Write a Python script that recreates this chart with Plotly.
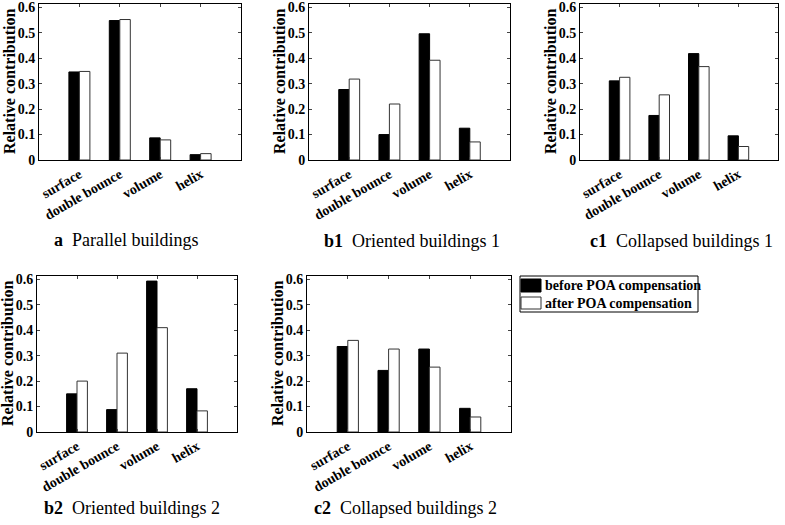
import plotly.graph_objects as go

# Categories and values
categories = ["surface", "double bounce", "volume", "helix"]
cat_pos = [1, 2, 3, 4]

panel_a_before = [0.346, 0.548, 0.087, 0.021]
panel_a_after = [0.348, 0.552, 0.079, 0.025]

panel_b1_before = [0.277, 0.100, 0.496, 0.125]
panel_b1_after = [0.318, 0.220, 0.392, 0.071]

panel_c1_before = [0.311, 0.175, 0.418, 0.095]
panel_c1_after = [0.325, 0.256, 0.367, 0.053]

panel_b2_before = [0.150, 0.088, 0.593, 0.170]
panel_b2_after = [0.200, 0.310, 0.410, 0.083]

panel_c2_before = [0.336, 0.242, 0.326, 0.093]
panel_c2_after = [0.360, 0.326, 0.255, 0.059]

y_ticks = [0, 0.1, 0.2, 0.3, 0.4, 0.5, 0.6]
y_ticktext = ["0", "0.1", "0.2", "0.3", "0.4", "0.5", "0.6"]

series_names = ["before POA compensation", "after POA compensation"]

captions = [("a", "Parallel buildings"), ("b1", "Oriented buildings 1"),
            ("c1", "Collapsed buildings 1"), ("b2", "Oriented buildings 2"),
            ("c2", "Collapsed buildings 2")]

panels = [
    (panel_a_before, panel_a_after),
    (panel_b1_before, panel_b1_after),
    (panel_c1_before, panel_c1_after),
    (panel_b2_before, panel_b2_after),
    (panel_c2_before, panel_c2_after),
]

W, H = 785, 525
# plot boxes in pixels: left, right, top, bottom
boxes = [
    (39, 241, 4, 160),
    (309, 510, 4, 160),
    (580, 778, 4, 160),
    (37, 237, 276, 432),
    (307, 511, 276, 432),
]
caption_pos = [(52, 240), (322, 241), (588, 241), (42, 508), (312, 508)]

FONT = "Liberation Serif"
fill_colors = ["black", "white"]
edge_colors = ["black", "#333"]

fig = go.Figure()
layout = {}
annotations = []
shapes = []
for i, ((before, after), box) in enumerate(zip(panels, boxes)):
    n = "" if i == 0 else str(i + 1)
    xa, ya = "x" + n, "y" + n
    for vals, name, fc, ec in zip((before, after), series_names, fill_colors, edge_colors):
        fig.add_trace(go.Bar(x=cat_pos, y=vals, name=name,
                             marker=dict(color=fc, line=dict(color=ec, width=1)),
                             xaxis=xa, yaxis=ya, showlegend=False))
    l, r, t, b = box
    layout["xaxis" + n] = dict(
        domain=[l / W, r / W], anchor=ya, range=[0, 5], automargin=False,
        tickvals=cat_pos, ticktext=categories, tickangle=-30,
        ticks="inside", ticklen=3, showline=True, linecolor="black", linewidth=1,
        mirror="ticks", showgrid=False, zeroline=False,
        tickfont=dict(family=FONT, size=14, color="black", weight="bold"),
    )
    layout["yaxis" + n] = dict(
        domain=[1 - b / H, 1 - t / H], anchor=xa, range=[0, 0.613], automargin=False,
        tickvals=y_ticks, ticktext=y_ticktext, ticklabeloverflow="allow",
        ticks="inside", ticklen=3, showline=True, linecolor="black", linewidth=1,
        mirror="ticks", showgrid=False, zeroline=False,
        tickfont=dict(family=FONT, size=14, color="black", weight="bold"),
    )
    annotations.append(dict(
        x=(l - 30) / W, y=1 - (t + b) / 2 / H, xref="paper", yref="paper",
        text="<b>Relative contribution</b>", textangle=-90, showarrow=False,
        font=dict(family=FONT, size=16, color="black"),
        xanchor="center", yanchor="middle"))
    cx, cy = caption_pos[i]
    lab, txt = captions[i]
    annotations.append(dict(
        x=cx / W, y=1 - cy / H, xref="paper", yref="paper",
        text="<b>" + lab + "</b>  " + txt, showarrow=False,
        font=dict(family=FONT, size=18, color="black"),
        xanchor="left", yanchor="middle"))

# legend box (drawn like the original MATLAB legend)
lx0, lx1, ly0, ly1 = 520, 698, 276, 312
shapes.append(dict(type="rect", xref="paper", yref="paper",
                   x0=lx0 / W, x1=lx1 / W, y0=1 - ly1 / H, y1=1 - ly0 / H,
                   line=dict(color="black", width=1), fillcolor="white"))
rows = [(279, 292), (297, 309)]
for (r0, r1), name, fc, ec in zip(rows, series_names, fill_colors, edge_colors):
    shapes.append(dict(type="rect", xref="paper", yref="paper",
                       x0=(lx0 + 1) / W, x1=(lx0 + 21) / W, y0=1 - r1 / H, y1=1 - r0 / H,
                       line=dict(color=ec, width=1), fillcolor=fc))
    annotations.append(dict(
        x=(lx0 + 23) / W, y=1 - (r0 + r1) / 2 / H, xref="paper", yref="paper",
        text="<b>" + name + "</b>", showarrow=False,
        font=dict(family=FONT, size=14, color="black"),
        xanchor="left", yanchor="middle"))

fig.update_layout(**layout)
fig.update_layout(
    width=W, height=H,
    margin=dict(l=0, r=0, t=0, b=0),
    paper_bgcolor="white", plot_bgcolor="white",
    barmode="group", bargap=0.48, bargroupgap=0,
    annotations=annotations, shapes=shapes,
    showlegend=False,
)

fig.write_html("out.html", config={"displayModeBar": False},
               post_script="document.body.style.margin='0';document.body.style.overflow='hidden';")
